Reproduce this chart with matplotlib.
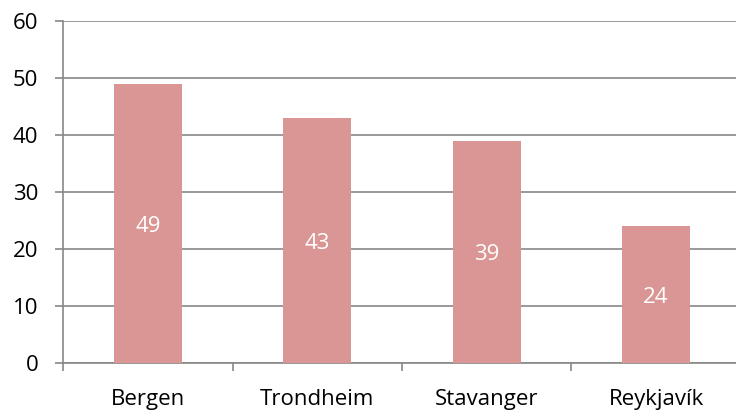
import matplotlib
matplotlib.use("Agg")
import matplotlib.pyplot as plt
from matplotlib.transforms import offset_copy

categories = ["Bergen", "Trondheim", "Stavanger", "Reykjavík"]
values = [49, 43, 39, 24]
y_ticks = [0, 10, 20, 30, 40, 50, 60]

plt.rcParams['font.family'] = ['Open Sans', 'DejaVu Sans']

fig = plt.figure(figsize=(7.36, 4.11), dpi=100)
ax = fig.add_axes([63.3/736, 48/411, (740.7-63.3)/736, 342/411])

x = list(range(len(categories)))
bars = ax.bar(x, values, width=0.4, color="#D99694", zorder=3)
label_tr = offset_copy(ax.transData, fig=fig, x=0, y=-3, units="dots")
for xi, v in zip(x, values):
    ax.text(xi, v/2, str(v), ha="center", va="center", color="white", fontsize=16,
            zorder=4, transform=label_tr)

ax.set_xlim(-0.5, len(categories)-0.5)
ax.set_ylim(0, 60)
ax.set_yticks(y_ticks)
ax.set_yticklabels([str(t) for t in y_ticks], fontsize=16)
ax.yaxis.grid(True, color="#888888", linewidth=1.2, zorder=0)
ax.set_axisbelow(True)

ax.set_xticks([i - 0.5 for i in range(len(categories)+1)])
ax.set_xticklabels([])
ax.set_xticks(x, minor=True)
ax.set_xticklabels(categories, minor=True, fontsize=16)
ax.tick_params(axis="x", which="minor", length=0, pad=19)
ax.tick_params(axis="x", which="major", length=6, color="#888888", width=1.2, direction="out")
ax.tick_params(axis="y", length=6, color="#888888", width=1.2, pad=12)

for s in ["top", "right"]:
    ax.spines[s].set_visible(False)
for s in ["left", "bottom"]:
    ax.spines[s].set_color("#888888")
    ax.spines[s].set_linewidth(1.2)

fig.savefig("out.png", dpi=100)
